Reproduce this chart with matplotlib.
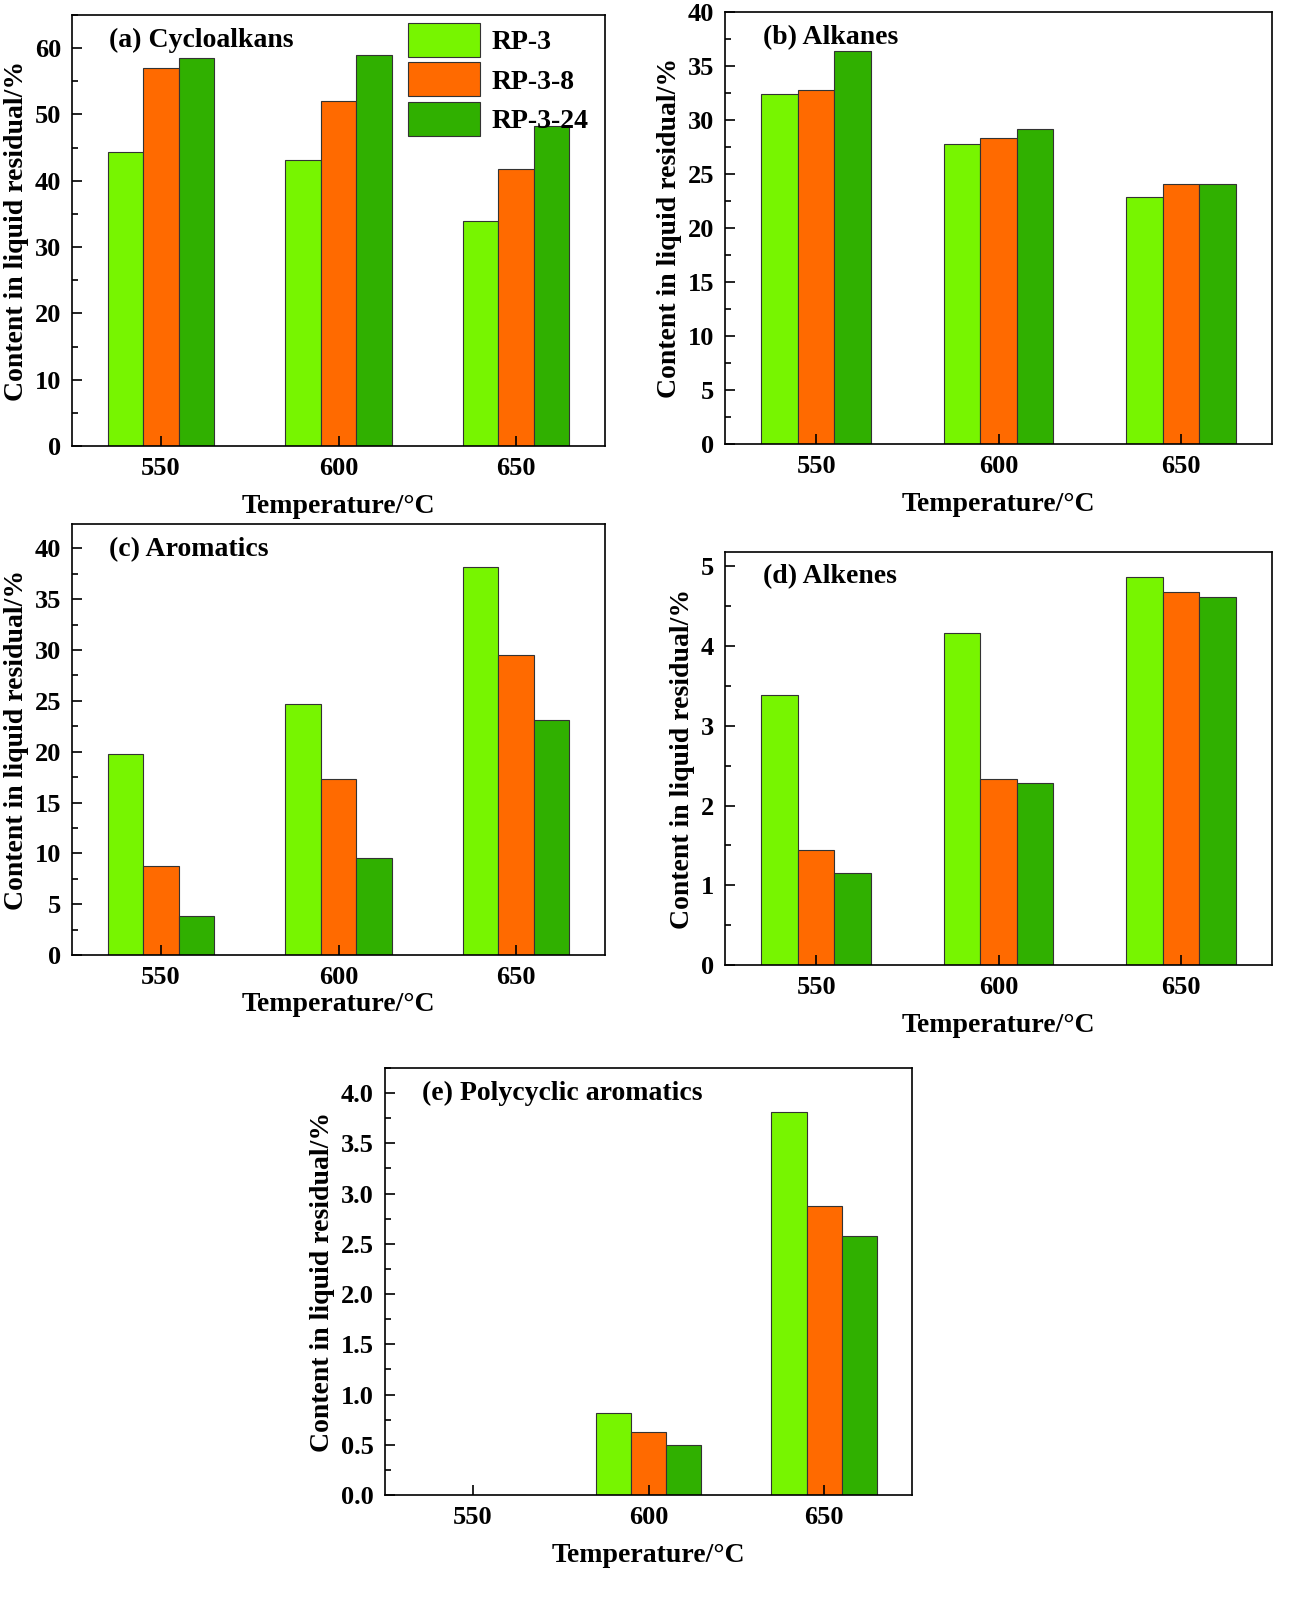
import matplotlib
matplotlib.use("Agg")
import matplotlib.pyplot as plt
import numpy as np
from matplotlib.ticker import MultipleLocator

plt.rcParams['font.family'] = ['Liberation Serif', 'DejaVu Serif']
plt.rcParams['font.weight'] = 'bold'

temps = ['550', '600', '650']
series = ['RP-3', 'RP-3-8', 'RP-3-24']
colors = ['#77f500', '#ff6a00', '#30b000']

cyclo = [[44.3, 43.1, 33.9], [57.0, 52.0, 41.7], [58.5, 59.0, 48.2]]
alkanes = [[32.4, 27.8, 22.9], [32.8, 28.3, 24.1], [36.4, 29.2, 24.1]]
aromatics = [[19.8, 24.7, 38.2], [8.8, 17.3, 29.5], [3.8, 9.5, 23.1]]
alkenes = [[3.39, 4.17, 4.87], [1.44, 2.33, 4.68], [1.16, 2.28, 4.61]]
poly = [[0, 0.82, 3.81], [0, 0.63, 2.88], [0, 0.50, 2.58]]

W, H = 1301, 1600
panels = [
    (cyclo, '(a) Cycloalkans', (72, 15, 605, 446), 65, 10, 5, '%d'),
    (alkanes, '(b) Alkanes', (725, 12, 1272, 444), 40, 5, 2.5, '%d'),
    (aromatics, '(c) Aromatics', (72, 524, 605, 955), 42.4, 5, 2.5, '%d'),
    (alkenes, '(d) Alkenes', (725, 552, 1272, 965), 5.18, 1, 0.5, '%d'),
    (poly, '(e) Polycyclic aromatics', (385, 1068, 912, 1495), 4.25, 0.5, 0.25, '%.1f'),
]

fig = plt.figure(figsize=(W / 100, H / 100), dpi=100)
x = np.arange(len(temps))
bw = 0.2
for i, (data, title, (l, t, r, b), ymax, maj, mnr, fmt) in enumerate(panels):
    ax = fig.add_axes([l / W, 1 - b / H, (r - l) / W, (b - t) / H])
    for k, vals in enumerate(data):
        ax.bar(x + (k - 1) * bw, vals, bw, color=colors[k], edgecolor='#333333',
               linewidth=0.8, label=series[k])
    ax.set_xlim(-0.5, 2.5)
    ax.set_ylim(0, ymax)
    ax.set_xticks(x)
    ax.set_xticklabels(temps)
    ax.xaxis.set_minor_locator(matplotlib.ticker.NullLocator())
    ax.yaxis.set_major_locator(MultipleLocator(maj))
    ax.yaxis.set_minor_locator(MultipleLocator(mnr))
    ax.yaxis.set_major_formatter(matplotlib.ticker.FormatStrFormatter(fmt))
    ax.tick_params(which='both', direction='in', labelsize=19, width=1.2)
    ax.tick_params(which='major', length=7, pad=8)
    ax.tick_params(which='minor', length=4)
    for s in ax.spines.values():
        s.set_linewidth(1.2)
    ax.set_xlabel('Temperature/°C', fontsize=20, fontweight='bold', labelpad=10 if i != 2 else 2)
    ax.set_ylabel('Content in liquid residual/%', fontsize=20, fontweight='bold', labelpad=4)
    ax.text(0.07, 0.94, title, transform=ax.transAxes, fontsize=20, fontweight='bold',
            va='center', ha='left')
    if i == 0:
        ax.legend(loc='upper right', bbox_to_anchor=(1.0, 1.02), frameon=False, fontsize=20,
                  handlelength=2.6, handleheight=1.5, labelspacing=0.2, handletextpad=0.4,
                  borderaxespad=0.2)

fig.savefig('out.png', dpi=100)
